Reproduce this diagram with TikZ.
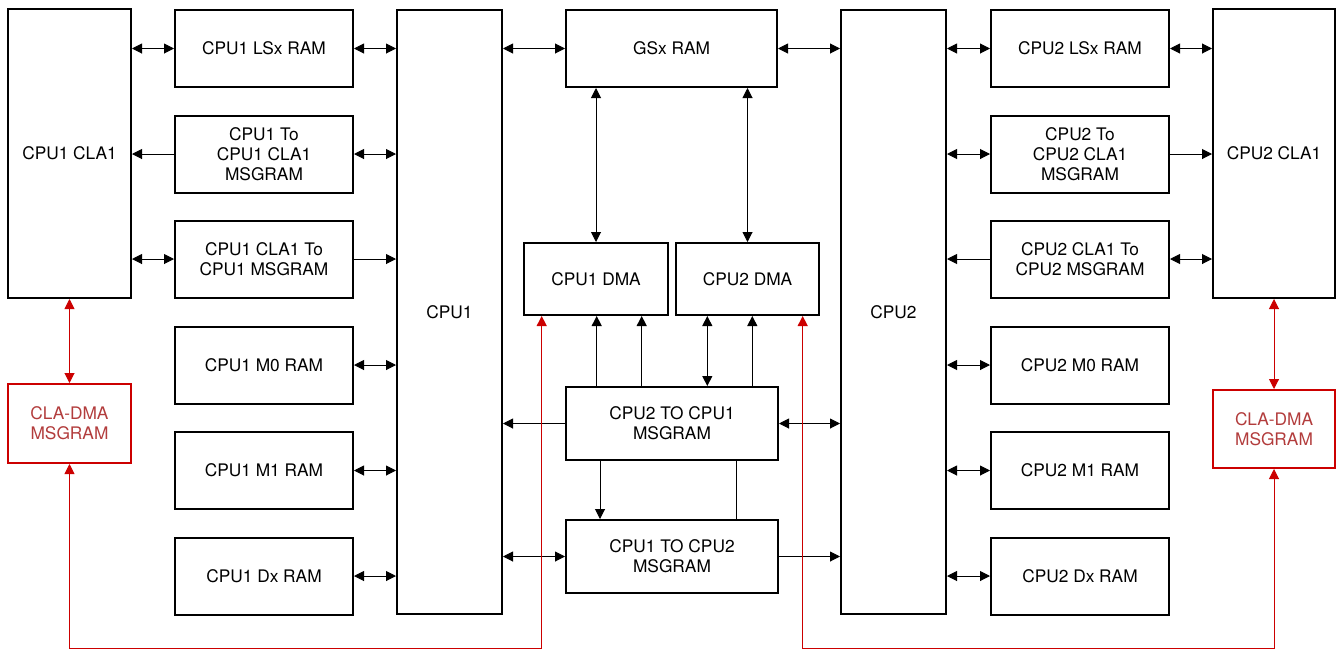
\documentclass[tikz,border=0pt]{standalone}
\usepackage{fontspec}
\setmainfont{TeX Gyre Heros}
\usetikzlibrary{arrows.meta}
\definecolor{redline}{RGB}{204,0,0}
\definecolor{redtext}{RGB}{178,60,60}
\begin{document}
\begin{tikzpicture}[x=1pt,y=-1pt,
 box/.style={draw=black, line width=2pt, align=center, inner sep=0pt, font=\fontsize{17.3}{20}\selectfont},
 redbox/.style={box, draw=redline, text=redtext},
 conn/.style={line width=1pt, draw=black},
 both/.style={conn, {Triangle[length=10pt,width=10pt]}-{Triangle[length=10pt,width=10pt]}},
 one/.style={conn, -{Triangle[length=10pt,width=10pt]}},
 rboth/.style={line width=1pt, draw=redline, {Triangle[length=10pt,width=10pt]}-{Triangle[length=10pt,width=10pt]}}
]
\useasboundingbox (0,0) rectangle (1336,649);
% left side
\node[box, minimum width=123pt, minimum height=289pt] (cla1) at (69.5,153.5) {CPU1 CLA1};
\node[box, minimum width=178pt, minimum height=77pt] (lsx1) at (264,48.5) {CPU1 LSx RAM};
\node[box, minimum width=178pt, minimum height=77pt] (c1cm) at (264,154) {CPU1 To\\CPU1 CLA1\\MSGRAM};
\node[box, minimum width=178pt, minimum height=77pt] (cc1m) at (264,259) {CPU1 CLA1 To\\CPU1 MSGRAM};
\node[box, minimum width=178pt, minimum height=77pt] (m01) at (264,365) {CPU1 M0 RAM};
\node[box, minimum width=178pt, minimum height=77pt] (m11) at (264,470.5) {CPU1 M1 RAM};
\node[box, minimum width=178pt, minimum height=77pt] (dx1) at (264,576) {CPU1 Dx RAM};
\node[box, minimum width=105pt, minimum height=604pt] (cpu1) at (449.5,312) {CPU1};
\node[redbox, minimum width=123pt, minimum height=79pt] (cdm1) at (69.5,423.5) {CLA-DMA\\MSGRAM};
% center
\node[box, minimum width=211pt, minimum height=77pt] (gsx) at (671.5,48.5) {GSx RAM};
\node[box, minimum width=144pt, minimum height=72pt] (dma1) at (596,279) {CPU1 DMA};
\node[box, minimum width=143pt, minimum height=72pt] (dma2) at (747.5,279) {CPU2 DMA};
\node[box, minimum width=212pt, minimum height=73pt] (m21) at (672,423.5) {CPU2 TO CPU1\\MSGRAM};
\node[box, minimum width=212pt, minimum height=73pt] (m12) at (672,556.5) {CPU1 TO CPU2\\MSGRAM};
% right side
\node[box, minimum width=105pt, minimum height=604pt] (cpu2) at (893.5,312) {CPU2};
\node[box, minimum width=178pt, minimum height=77pt] (lsx2) at (1080,48.5) {CPU2 LSx RAM};
\node[box, minimum width=178pt, minimum height=77pt] (c2cm) at (1080,154) {CPU2 To\\CPU2 CLA1\\MSGRAM};
\node[box, minimum width=178pt, minimum height=77pt] (cc2m) at (1080,259) {CPU2 CLA1 To\\CPU2 MSGRAM};
\node[box, minimum width=178pt, minimum height=77pt] (m02) at (1080,365) {CPU2 M0 RAM};
\node[box, minimum width=178pt, minimum height=77pt] (m12r) at (1080,470.5) {CPU2 M1 RAM};
\node[box, minimum width=178pt, minimum height=77pt] (dx2) at (1080,576) {CPU2 Dx RAM};
\node[box, minimum width=122pt, minimum height=289pt] (cla2) at (1274,153.5) {CPU2 CLA1};
\node[redbox, minimum width=122pt, minimum height=78pt] (cdm2) at (1274,429) {CLA-DMA\\MSGRAM};
% left connectors
\draw[both] (cla1.east |- lsx1.west) -- (lsx1.west);
\draw[both] (lsx1.east) -- (cpu1.west |- lsx1.east);
\draw[one] (c1cm.west) -- (cla1.east |- c1cm.west);
\draw[both] (c1cm.east) -- (cpu1.west |- c1cm.east);
\draw[both] (cla1.east |- cc1m.west) -- (cc1m.west);
\draw[one] (cc1m.east) -- (cpu1.west |- cc1m.east);
\draw[both] (m01.east) -- (cpu1.west |- m01.east);
\draw[both] (m11.east) -- (cpu1.west |- m11.east);
\draw[both] (dx1.east) -- (cpu1.west |- dx1.east);
% right connectors
\draw[both] (cpu2.east |- lsx2.west) -- (lsx2.west);
\draw[both] (lsx2.east) -- (cla2.west |- lsx2.east);
\draw[both] (cpu2.east |- c2cm.west) -- (c2cm.west);
\draw[one] (c2cm.east) -- (cla2.west |- c2cm.east);
\draw[one] (cc2m.west) -- (cpu2.east |- cc2m.west);
\draw[both] (cc2m.east) -- (cla2.west |- cc2m.east);
\draw[both] (cpu2.east |- m02.west) -- (m02.west);
\draw[both] (cpu2.east |- m12r.west) -- (m12r.west);
\draw[both] (cpu2.east |- dx2.west) -- (dx2.west);
% center connectors
\draw[both] (cpu1.east |- gsx.west) -- (gsx.west);
\draw[both] (gsx.east) -- (cpu2.west |- gsx.east);
\draw[both] (gsx.south -| dma1.north) -- (dma1.north);
\draw[both] (gsx.south -| dma2.north) -- (dma2.north);
\coordinate (xa) at (596.7,0);
\coordinate (xb) at (641.7,0);
\coordinate (xc) at (707.3,0);
\coordinate (xd) at (752.3,0);
\coordinate (xe) at (600,0);
\coordinate (xf) at (736,0);
\draw[one] (xa |- m21.north) -- (xa |- dma1.south);
\draw[one] (xb |- m21.north) -- (xb |- dma1.south);
\draw[both] (xc |- m21.north) -- (xc |- dma2.south);
\draw[one] (xd |- m21.north) -- (xd |- dma2.south);
\draw[one] (m21.west) -- (cpu1.east |- m21.west);
\draw[both] (m21.east) -- (cpu2.west |- m21.east);
\draw[one] (xe |- m21.south) -- (xe |- m12.north);
\draw[conn] (xf |- m21.south) -- (xf |- m12.north);
\draw[both] (cpu1.east |- m12.west) -- (m12.west);
\draw[one] (m12.east) -- (cpu2.west |- m12.east);
% red connectors
\coordinate (r1) at (541.7,648.3);
\coordinate (r2) at (802.7,648.3);
\draw[rboth] (cla1.south) -- (cdm1.north);
\draw[rboth] (cla2.south) -- (cdm2.north);
\draw[rboth] (r1 |- dma1.south) -- (r1) -| (cdm1.south);
\draw[rboth] (r2 |- dma2.south) -- (r2) -| (cdm2.south);
\end{tikzpicture}
\end{document}
